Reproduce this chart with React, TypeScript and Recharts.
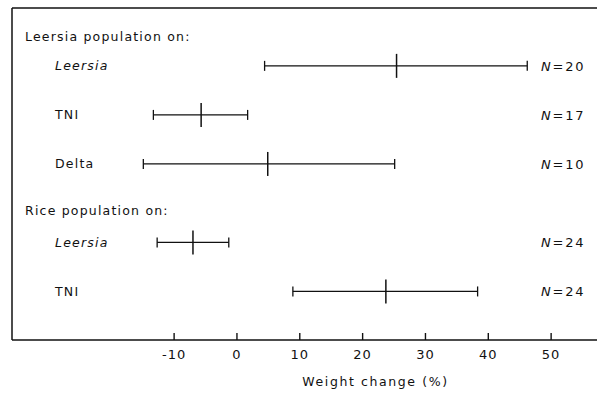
import React from "react";
import { ScatterChart, Scatter, XAxis, YAxis, ErrorBar } from "recharts";

// ---- data ----
const groupLabels = ["Leersia population on:", "Rice population on:"];
const groupSlots = [0.4, 3.95];
const categories = ["Leersia", "TNI", "Delta", "Leersia", "TNI"];
const categoryItalic = [true, false, false, true, false];
const rowSlots = [1, 2, 3, 4.6, 5.6];
const means = [25.4, -5.7, 4.9, -7.0, 23.7];
const lows = [4.4, -13.3, -14.9, -12.7, 8.9];
const highs = [46.2, 1.7, 25.1, -1.3, 38.3];
const sampleSizes = [20, 17, 10, 24, 24];
const xTicks = [-10, 0, 10, 20, 30, 40, 50];
const xDomain = [-35.8, 57.3];
const yDomain = [-0.18, 6.59];
const xTitle = "Weight change (%)";

const FONT = "'DejaVu Sans', sans-serif";
const INK = "#111";

const data = means.map((m, i) => ({
  x: m,
  y: rowSlots[i],
  err: [m - lows[i], highs[i] - m],
  n: sampleSizes[i],
}));

const yTickInfo: Record<string, { text: string; italic: boolean; header: boolean }> = {};
groupSlots.forEach((s, i) => {
  yTickInfo[String(s)] = { text: groupLabels[i], italic: false, header: true };
});
rowSlots.forEach((s, i) => {
  yTickInfo[String(s)] = { text: categories[i], italic: categoryItalic[i], header: false };
});
const yTicks = [...groupSlots, ...rowSlots].sort((a, b) => a - b);

const YTick = (props: any) => {
  const { x, y, payload } = props;
  const info = yTickInfo[String(payload.value)];
  if (!info) return null;
  return (
    <text
      x={x + (info.header ? 13 : 43)}
      y={y + 4.5}
      textAnchor="start"
      fontFamily={FONT}
      fontSize={12.5}
      letterSpacing={1.2}
      fontStyle={info.italic ? "italic" : "normal"}
      fill={INK}
    >
      {info.text}
    </text>
  );
};

const XTick = (props: any) => {
  const { x, y, payload } = props;
  return (
    <g>
      <line x1={x} x2={x} y1={y} y2={y - 7} stroke={INK} strokeWidth={1.4} />
      <text
        x={x}
        y={y + 19}
        textAnchor="middle"
        fontFamily={FONT}
        fontSize={13}
        letterSpacing={1}
        fill={INK}
      >
        {payload.value}
      </text>
    </g>
  );
};

const AxisTitle = (props: any) => {
  const vb = props.viewBox || { x: 0, y: 0, width: 0, height: 0 };
  return (
    <text
      x={vb.x + vb.width / 2 + 71}
      y={vb.y + 46}
      textAnchor="middle"
      fontFamily={FONT}
      fontSize={12.5}
      letterSpacing={1.6}
      fill={INK}
    >
      {xTitle}
    </text>
  );
};

const MeanMark = (props: any) => {
  const { cx, cy, payload } = props;
  return (
    <g>
      <line x1={cx} x2={cx} y1={cy - 12} y2={cy + 12} stroke={INK} strokeWidth={1.5} />
      <text x={541} y={cy + 5} fontFamily={FONT} fontSize={13} letterSpacing={1.8} fill={INK}>
        <tspan fontStyle="italic">N</tspan>
        <tspan>={payload.n}</tspan>
      </text>
    </g>
  );
};

export default function App() {
  return (
    <div style={{ position: "absolute", left: 0, top: 0, background: "#fff" }}>
      <ScatterChart
        width={597}
        height={394}
        margin={{ top: 7, right: 0, bottom: 4, left: 11 }}
      >
        <XAxis
          type="number"
          dataKey="x"
          domain={xDomain}
          ticks={xTicks}
          interval={0}
          allowDataOverflow
          height={50}
          tickLine={false}
          tickSize={0}
          tickMargin={0}
          tick={<XTick />}
          axisLine={{ stroke: INK, strokeWidth: 1.5 }}
          label={<AxisTitle />}
        />
        <XAxis
          xAxisId="top"
          orientation="top"
          type="number"
          domain={xDomain}
          allowDataOverflow
          height={1}
          tick={false}
          tickLine={false}
          axisLine={{ stroke: INK, strokeWidth: 1.5 }}
        />
        <YAxis
          type="number"
          dataKey="y"
          domain={yDomain}
          reversed
          allowDataOverflow
          ticks={yTicks}
          interval={0}
          width={1}
          tickLine={false}
          tickSize={0}
          tickMargin={0}
          tick={<YTick />}
          axisLine={{ stroke: INK, strokeWidth: 1.5 }}
        />
        <Scatter data={data} shape={<MeanMark />} isAnimationActive={false}>
          <ErrorBar
            dataKey="err"
            direction="x"
            width={5}
            stroke={INK}
            strokeWidth={1.3}
            isAnimationActive={false}
          />
        </Scatter>
      </ScatterChart>
    </div>
  );
}
